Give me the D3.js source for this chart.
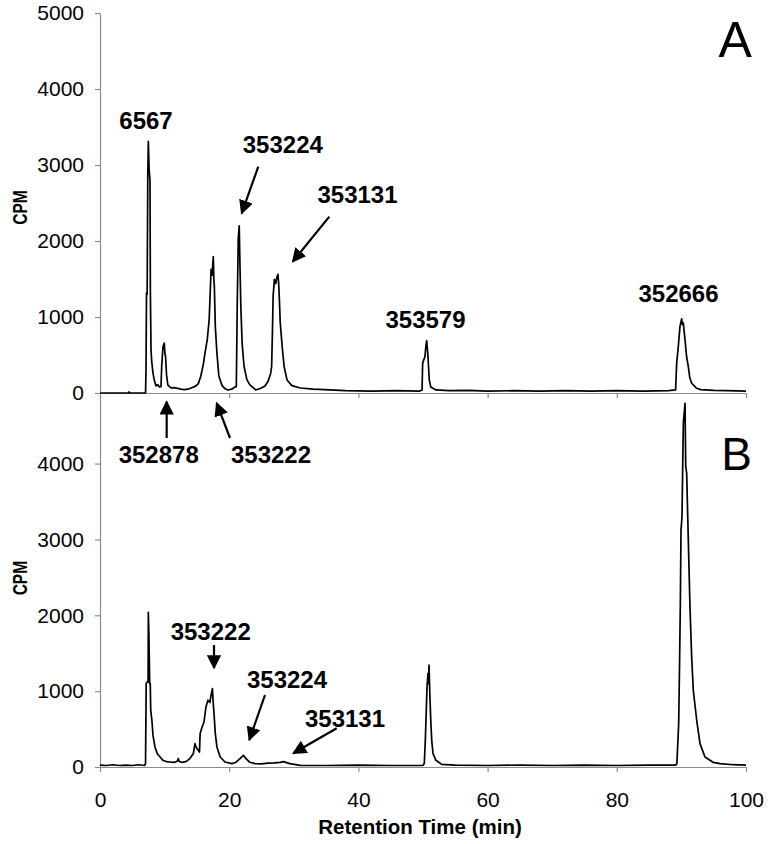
<!DOCTYPE html>
<html>
<head>
<meta charset="utf-8">
<script src="https://cdn.jsdelivr.net/npm/d3@7"></script>
<style>
  body { margin: 0; background: #fff; }
  svg { display: block; font-family: "Liberation Sans", Arial, sans-serif; }
</style>
</head>
<body>
<svg id="chart" width="771" height="844"></svg>
<script>
// retention time (min), CPM pairs
const traceA = [
  [0, 0], [4.4, 0], [4.5, 15], [4.6, 0], [7.05, 0], [7.12, 300], [7.2, 1320], [7.3, 1300],
  [7.4, 2900], [7.48, 3310], [7.6, 2950], [7.74, 2800], [7.8, 1300], [7.9, 570], [8.0, 420],
  [8.2, 265], [8.4, 170], [8.67, 93], [8.9, 110], [9.2, 80], [9.44, 83], [9.55, 350],
  [9.75, 610], [9.95, 657], [10.05, 520], [10.15, 480], [10.3, 240], [10.5, 106], [10.8, 80],
  [11.1, 66], [11.5, 70], [12, 60], [12.5, 50], [13, 45], [13.6, 50], [14.2, 70], [14.8, 90],
  [15.2, 120], [15.6, 220], [16, 380], [16.25, 525], [16.6, 700], [16.9, 966], [17.05, 1300],
  [17.2, 1627], [17.35, 1550], [17.54, 1795], [17.62, 1500], [17.7, 1406], [17.85, 877],
  [18.1, 525], [18.4, 225], [18.9, 97], [19.3, 60], [19.8, 40], [20.4, 50], [20.9, 80],
  [21.1, 83], [21.25, 1186], [21.4, 2024], [21.55, 2200], [21.67, 1671], [21.8, 1142],
  [22.0, 657], [22.3, 348], [22.75, 172], [23.2, 106], [23.7, 70], [24.1, 40], [24.8, 60],
  [25.5, 90], [26, 150], [26.4, 250], [26.57, 348], [26.7, 833], [26.8, 1274], [27.0, 1495],
  [27.2, 1440], [27.4, 1530], [27.55, 1561], [27.65, 1450], [27.75, 1274], [27.9, 922],
  [28.2, 612], [28.5, 348], [28.95, 172], [29.7, 97], [31, 66], [33, 50], [35.6, 40], [38, 30],
  [42, 25], [46, 30], [49.5, 25], [49.85, 40], [49.95, 393], [50.3, 480], [50.45, 620],
  [50.57, 688], [50.7, 560], [50.77, 480], [50.97, 172], [51.2, 79], [52, 40], [54, 30],
  [57, 35], [60, 25], [64, 30], [68, 25], [72, 30], [76, 25], [80, 30], [84, 25], [88, 30],
  [89.1, 40], [89.27, 393], [89.52, 612], [89.78, 877], [90.04, 975], [90.15, 900],
  [90.29, 922], [90.56, 701], [90.8, 480], [91.07, 348], [91.3, 200], [91.59, 128],
  [92.36, 62], [93, 45], [95, 35], [97, 30], [100, 25]
];

const traceB = [
  [0, 25], [1, 20], [2, 30], [3, 20], [4, 25], [5, 20], [6, 30], [6.9, 20], [7.05, 45],
  [7.15, 1100], [7.3, 1121], [7.45, 1121], [7.48, 2040], [7.57, 1760], [7.69, 1100],
  [7.78, 1100], [7.85, 750], [8.05, 600], [8.2, 420], [8.5, 264], [8.9, 170], [9.3, 132],
  [9.75, 88], [10.3, 70], [10.8, 66], [11.5, 60], [12.0, 80], [12.1, 110], [12.3, 70],
  [12.7, 62], [13.3, 70], [13.9, 110], [14.45, 177], [14.7, 308], [14.86, 264], [15.2, 220],
  [15.4, 198], [15.5, 440], [15.8, 528], [16.1, 594], [16.4, 791], [16.7, 880], [17.0, 850],
  [17.2, 950], [17.4, 1034], [17.5, 880], [17.65, 704], [17.85, 440], [18.1, 264],
  [18.6, 132], [19.35, 66], [20.4, 45], [21.0, 60], [21.67, 110], [22.2, 154], [22.6, 110],
  [23.2, 62], [24.0, 45], [25, 40], [26, 50], [27, 55], [27.9, 62], [28.4, 70], [29, 55],
  [29.4, 45], [31, 22], [35, 20], [40, 25], [45, 20], [50, 22], [50.2, 45], [50.36, 352],
  [50.46, 616], [50.62, 1055], [50.77, 1231], [50.85, 1100], [50.93, 1342], [51.04, 1012],
  [51.2, 616], [51.35, 352], [51.55, 177], [52, 88], [52.9, 35], [55, 25], [60, 20],
  [65, 25], [70, 20], [75, 25], [80, 20], [85, 25], [89.1, 25], [89.3, 45], [89.58, 572],
  [89.73, 1451], [89.83, 2110], [89.94, 3123], [90.09, 3298], [90.3, 4530], [90.56, 4794],
  [90.67, 3958], [90.82, 3870], [91.07, 2990], [91.33, 2110], [91.59, 1451], [91.84, 1012],
  [92.37, 616], [92.88, 308], [93.65, 132], [94.9, 62], [96, 45], [98, 30], [100, 25]
];

const xTicks = [0, 20, 40, 60, 80, 100];
const yTicksA = [0, 1000, 2000, 3000, 4000, 5000];
const yTicksB = [0, 1000, 2000, 3000, 4000];

// peak labels: text, label (t, cpm), arrow tail (t, cpm), arrow tip (t, cpm)
const labelsA = [
  { text: "6567", at: [7.12, 3474] },
  { text: "353224", at: [28.3, 3158], from: [24.5, 2978], to: [21.93, 2364] },
  { text: "353131", at: [39.86, 2500], from: [35.5, 2320], to: [29.83, 1728] },
  { text: "353579", at: [50.39, 855] },
  { text: "352666", at: [89.55, 1201] },
  { text: "352878", at: [9.09, -917], from: [10.32, -592], to: [10.32, -114] },
  { text: "353222", at: [26.47, -917], from: [20.12, -592], to: [18.06, -132] }
];
const labelsB = [
  { text: "353222", at: [17.14, 1674], from: [17.65, 1608], to: [17.65, 1305] },
  { text: "353224", at: [28.95, 1041], from: [25.54, 949], to: [23.11, 356] },
  { text: "353131", at: [37.93, 531], from: [36.64, 510], to: [29.92, 181] }
];

const svg = d3.select("#chart");
const axisGray = "#8c8c8c";

const x = d3.scaleLinear().domain([0, 100]).range([100, 746]);
const yA = d3.scaleLinear().domain([0, 5000]).range([393, 13]);
const yB = d3.scaleLinear().domain([0, 4930]).range([767, 393]);

svg.append("defs").append("marker")
  .attr("id", "head")
  .attr("viewBox", "0 0 10 10")
  .attr("refX", 9).attr("refY", 5)
  .attr("markerWidth", 6.5).attr("markerHeight", 6.5)
  .attr("markerUnits", "strokeWidth")
  .attr("orient", "auto")
  .append("path").attr("d", "M0,0 L10,5 L0,10 z").attr("fill", "#000");

function styleAxis(g) {
  g.select(".domain").attr("stroke", axisGray).attr("stroke-width", 1.2);
  g.selectAll(".tick line").attr("stroke", axisGray).attr("stroke-width", 1.2);
  g.selectAll(".tick text").attr("fill", "#000").attr("font-size", 21)
    .attr("font-family", "'Liberation Sans', Arial, sans-serif");
}

function panel(y, yTicks, trace, labels, letter, showXLabels) {
  const base = y(0);

  svg.append("g")
    .attr("transform", `translate(${x(0)},0)`)
    .call(d3.axisLeft(y).tickValues(yTicks).tickSize(5).tickPadding(11).tickSizeOuter(0)
      .tickFormat(d3.format("d")))
    .call(styleAxis);

  svg.append("g")
    .attr("transform", `translate(0,${base})`)
    .call(d3.axisBottom(x).tickValues(xTicks).tickSize(5).tickPadding(20).tickSizeOuter(0)
      .tickFormat(showXLabels ? d3.format("d") : () => ""))
    .call(styleAxis);

  const line = d3.line().x(d => x(d[0])).y(d => y(d[1]));
  svg.append("path")
    .datum(trace)
    .attr("fill", "none")
    .attr("stroke", "#000")
    .attr("stroke-width", 1.7)
    .attr("stroke-linejoin", "round")
    .attr("d", line);

  const g = svg.append("g");
  g.selectAll("text.lab").data(labels).join("text")
    .attr("class", "lab")
    .attr("x", d => x(d.at[0]))
    .attr("y", d => y(d.at[1]))
    .attr("text-anchor", "middle")
    .attr("font-size", 24)
    .attr("font-weight", 700)
    .text(d => d.text);

  g.selectAll("line.arrow").data(labels.filter(d => d.from)).join("line")
    .attr("class", "arrow")
    .attr("x1", d => x(d.from[0])).attr("y1", d => y(d.from[1]))
    .attr("x2", d => x(d.to[0])).attr("y2", d => y(d.to[1]))
    .attr("stroke", "#000")
    .attr("stroke-width", 2.2)
    .attr("marker-end", "url(#head)");

  svg.append("text")
    .attr("x", x(100.9))
    .attr("y", y(letter.v))
    .attr("text-anchor", "end")
    .attr("font-size", letter.size)
    .text(letter.text);

  // narrow bold axis title, squeezed along its length
  svg.append("text")
    .attr("transform", `translate(27,${letter.cpmY}) rotate(-90) scale(0.74,1)`)
    .attr("text-anchor", "middle")
    .attr("font-size", 21)
    .attr("font-weight", 700)
    .text("CPM");
}

panel(yA, yTicksA, traceA, labelsA, { text: "A", v: 4425, size: 50, cpmY: yA(2440) }, false);
panel(yB, yTicksB, traceB, labelsB, { text: "B", v: 3915, size: 46, cpmY: yB(2490) }, true);

svg.append("text")
  .attr("x", 420)
  .attr("y", 834)
  .attr("text-anchor", "middle")
  .attr("font-size", 20.5)
  .attr("font-weight", 700)
  .text("Retention Time (min)");
</script>
</body>
</html>
